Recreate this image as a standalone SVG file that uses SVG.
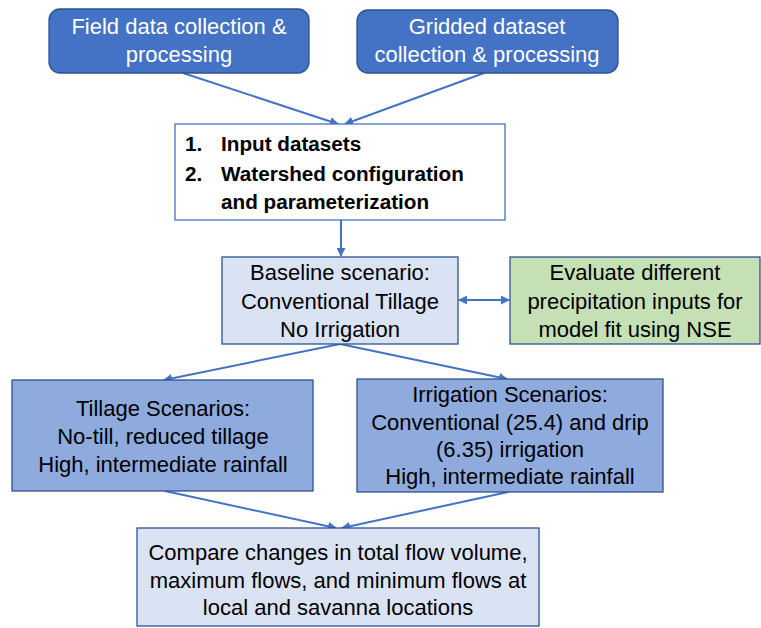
<svg xmlns="http://www.w3.org/2000/svg" width="761" height="628" viewBox="0 0 761 628">
<style>
text{font-family:"Liberation Sans",Arial,sans-serif;font-size:22px;fill:#000;text-anchor:middle}
.w{fill:#fff}
.b{font-weight:bold;text-anchor:start;font-size:20.7px}
.dark{fill:#4472C4;stroke:#2F528F;stroke-width:1.3}
.white{fill:#fff;stroke:#4472C4;stroke-width:1.3}
.light{fill:#DAE3F3;stroke:#2F528F;stroke-width:1.3}
.mid{fill:#8FAADC;stroke:#2F528F;stroke-width:1.3}
.green{fill:#C5E0B4;stroke:#2F528F;stroke-width:1.3}
.c{stroke:#4472C4;stroke-width:2;fill:none;marker-end:url(#ah)}
</style>
<defs>
<marker id="ah" viewBox="0 0 10 10" refX="9" refY="5" markerWidth="4.5" markerHeight="4.5" orient="auto-start-reverse">
<path d="M0,0L10,5L0,10z" fill="#4472C4"/>
</marker>
</defs>
<rect width="761" height="628" fill="#fff"/>
<g id="connectors">
<path class="c" d="M183,73L338,124"/>
<path class="c" d="M484,73L345,124"/>
<path class="c" d="M341,220L341,256"/>
<path class="c" d="M459,300L509,300" marker-start="url(#ah)"/>
<path class="c" d="M340,344L164,380"/>
<path class="c" d="M340,344L507,379"/>
<path class="c" d="M165,491L336,528"/>
<path class="c" d="M508,492L342,528"/>
</g>
<g id="field">
<rect class="dark" x="49" y="9" width="260" height="64" rx="11"/>
<text class="w" x="179" y="34">Field data collection &amp;</text>
<text class="w" x="179" y="62">processing</text>
</g>
<g id="gridded">
<rect class="dark" x="357" y="10" width="261" height="63" rx="11"/>
<text class="w" x="487" y="34">Gridded dataset</text>
<text class="w" x="487" y="62">collection &amp; processing</text>
</g>
<g id="input">
<rect class="white" x="175" y="124" width="330" height="96"/>
<text class="b" x="185" y="151">1.</text>
<text class="b" x="221" y="151">Input datasets</text>
<text class="b" x="185" y="181">2.</text>
<text class="b" x="221" y="181">Watershed configuration</text>
<text class="b" x="221" y="209">and parameterization</text>
</g>
<g id="baseline">
<rect class="light" x="222" y="257" width="236" height="87"/>
<text x="340" y="280">Baseline scenario:</text>
<text x="340" y="309">Conventional Tillage</text>
<text x="340" y="337">No Irrigation</text>
</g>
<g id="evaluate">
<rect class="green" x="510" y="257" width="250" height="87"/>
<text x="635" y="280">Evaluate different</text>
<text x="635" y="309">precipitation inputs for</text>
<text x="635" y="337">model fit using NSE</text>
</g>
<g id="tillage">
<rect class="mid" x="12" y="380" width="301" height="111"/>
<text x="163" y="416">Tillage Scenarios:</text>
<text x="163" y="444">No-till, reduced tillage</text>
<text x="163" y="472">High, intermediate rainfall</text>
</g>
<g id="irrigation">
<rect class="mid" x="357" y="379" width="306" height="113"/>
<text x="510" y="402">Irrigation Scenarios:</text>
<text x="510" y="430">Conventional (25.4) and drip</text>
<text x="510" y="457">(6.35) irrigation</text>
<text x="510" y="484">High, intermediate rainfall</text>
</g>
<g id="compare">
<rect class="light" x="137" y="528" width="402" height="98"/>
<text x="338" y="560">Compare changes in total flow volume,</text>
<text x="338" y="588">maximum flows, and minimum flows at</text>
<text x="338" y="615">local and savanna locations</text>
</g>
</svg>
